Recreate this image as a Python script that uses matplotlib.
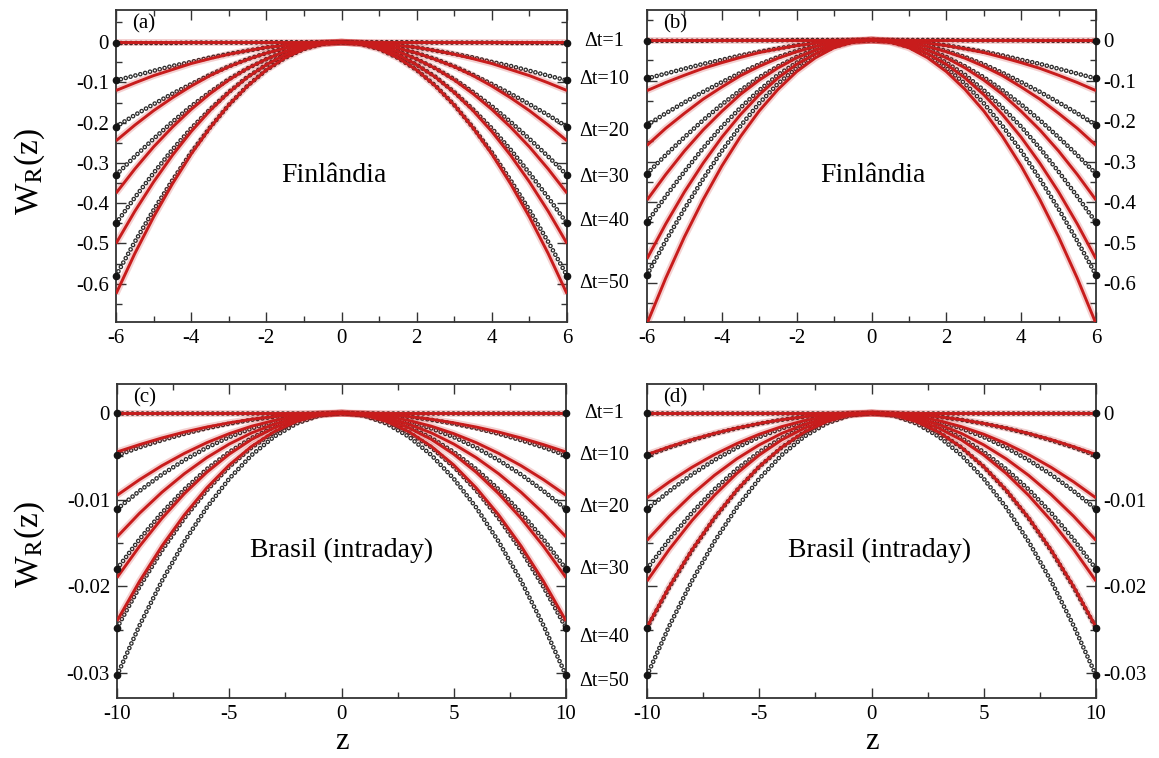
import numpy as np
import matplotlib
matplotlib.use("Agg")
import matplotlib.pyplot as plt
from matplotlib.ticker import MultipleLocator, FuncFormatter

plt.rcParams['font.family'] = ['Liberation Serif', 'DejaVu Serif']
plt.rcParams['mathtext.fontset'] = 'stix'
plt.rcParams['lines.scale_dashes'] = False
plt.rcParams['axes.unicode_minus'] = False

# curvas simetricas: so o lado z >= 0 (o lado negativo e o espelho)
dt_labels = ['Δt=1', 'Δt=10', 'Δt=20', 'Δt=30', 'Δt=40', 'Δt=50']

z_fin = [0, 0.5, 1, 1.5, 2, 2.5, 3, 3.5, 4, 4.5, 5, 5.5, 6]

fin_dados = [
    [0, 0, 0, 0, 0, -0.001, -0.001, -0.001, -0.001, -0.002, -0.002, -0.002, -0.002],
    [0, -0.001, -0.003, -0.008, -0.013, -0.021, -0.029, -0.038, -0.049, -0.059, -0.071, -0.083, -0.095],
    [0, -0.002, -0.007, -0.015, -0.027, -0.042, -0.060, -0.081, -0.104, -0.128, -0.154, -0.181, -0.210],
    [0, -0.003, -0.010, -0.023, -0.042, -0.065, -0.092, -0.124, -0.159, -0.198, -0.240, -0.284, -0.330],
    [0, -0.003, -0.014, -0.031, -0.056, -0.086, -0.124, -0.167, -0.214, -0.267, -0.325, -0.386, -0.450],
    [0, -0.004, -0.017, -0.039, -0.069, -0.108, -0.156, -0.212, -0.274, -0.343, -0.417, -0.496, -0.580],
]

fin_ajuste_a = [
    [0, 0, 0, 0, 0, 0, 0, 0, 0, 0, 0, 0, 0],
    [0, -0.001, -0.003, -0.008, -0.013, -0.021, -0.030, -0.041, -0.053, -0.068, -0.083, -0.101, -0.120],
    [0, -0.002, -0.007, -0.015, -0.027, -0.043, -0.061, -0.083, -0.109, -0.138, -0.170, -0.206, -0.245],
    [0, -0.003, -0.010, -0.023, -0.042, -0.065, -0.094, -0.128, -0.167, -0.211, -0.260, -0.315, -0.375],
    [0, -0.003, -0.014, -0.031, -0.056, -0.087, -0.125, -0.170, -0.222, -0.281, -0.347, -0.420, -0.500],
    [0, -0.004, -0.017, -0.039, -0.069, -0.109, -0.156, -0.213, -0.278, -0.352, -0.434, -0.525, -0.625],
]

fin_ajuste_b = [
    [0, 0, 0, 0, 0, 0, 0, 0, 0, 0, 0, 0, 0],
    [0, -0.001, -0.003, -0.008, -0.014, -0.022, -0.031, -0.043, -0.056, -0.070, -0.087, -0.105, -0.125],
    [0, -0.002, -0.007, -0.016, -0.029, -0.045, -0.065, -0.088, -0.116, -0.146, -0.181, -0.218, -0.260],
    [0, -0.003, -0.011, -0.025, -0.044, -0.069, -0.099, -0.134, -0.176, -0.222, -0.274, -0.332, -0.395],
    [0, -0.004, -0.015, -0.034, -0.060, -0.094, -0.135, -0.184, -0.240, -0.304, -0.375, -0.454, -0.540],
    [0, -0.005, -0.019, -0.044, -0.078, -0.122, -0.175, -0.238, -0.311, -0.394, -0.486, -0.588, -0.700],
]

z_bra = [0, 1, 2, 3, 4, 5, 6, 7, 8, 9, 10]

bra_dados = [
    [0, 0, 0, 0, 0, 0, 0, 0, 0, 0, 0],
    [0, -0.00005, -0.0002, -0.00044, -0.00078, -0.00123, -0.00176, -0.0024, -0.00314, -0.00397, -0.0049],
    [0, -0.00011, -0.00044, -0.001, -0.00178, -0.00278, -0.004, -0.00544, -0.0071, -0.009, -0.0111],
    [0, -0.00018, -0.00072, -0.00162, -0.00288, -0.0045, -0.00648, -0.00882, -0.01152, -0.01458, -0.018],
    [0, -0.00025, -0.00099, -0.00223, -0.00397, -0.0062, -0.00893, -0.01215, -0.01587, -0.02009, -0.0248],
    [0, -0.0003, -0.00121, -0.00273, -0.00485, -0.00758, -0.01091, -0.01485, -0.01939, -0.02454, -0.0303],
]

bra_ajuste_c = [
    [0, 0, 0, 0, 0, 0, 0, 0, 0, 0, 0],
    [0, -0.00005, -0.00018, -0.00041, -0.00072, -0.00113, -0.00162, -0.0022, -0.00288, -0.00365, -0.0045],
    [0, -0.0001, -0.00038, -0.00086, -0.00152, -0.00238, -0.00342, -0.00466, -0.00608, -0.0077, -0.0095],
    [0, -0.00014, -0.00057, -0.00129, -0.00229, -0.00358, -0.00515, -0.00701, -0.00915, -0.01158, -0.0143],
    [0, -0.00019, -0.00076, -0.00171, -0.00304, -0.00475, -0.00684, -0.00931, -0.01216, -0.01539, -0.019],
    [0, -0.00024, -0.00096, -0.00216, -0.00384, -0.006, -0.00864, -0.01176, -0.01536, -0.01944, -0.024],
]

bra_ajuste_d = [
    [0, 0, 0, 0, 0, 0, 0, 0, 0, 0, 0],
    [0, -0.00005, -0.00019, -0.00043, -0.00077, -0.0012, -0.00173, -0.00235, -0.00307, -0.00389, -0.0048],
    [0, -0.0001, -0.00039, -0.00088, -0.00157, -0.00245, -0.00353, -0.0048, -0.00627, -0.00794, -0.0098],
    [0, -0.00015, -0.00059, -0.00132, -0.00235, -0.00368, -0.00529, -0.0072, -0.00941, -0.01191, -0.0147],
    [0, -0.00019, -0.00078, -0.00175, -0.0031, -0.00485, -0.00698, -0.00951, -0.01242, -0.01571, -0.0194],
    [0, -0.00025, -0.00099, -0.00222, -0.00395, -0.00618, -0.00889, -0.0121, -0.01581, -0.02001, -0.0247],
]

VERMELHO = '#c81c1c'
CINZA = '#2b2b2b'


def espelha(z, w):
    z = np.asarray(z, float)
    w = np.asarray(w, float)
    return np.concatenate([-z[:0:-1], z]), np.concatenate([w[:0:-1], w])


def desenha_dados(ax, z, w):
    zz, ww = espelha(z, w)
    bolinhas = (0, (0.01, 3.6))
    ax.plot(zz, ww, color=CINZA, lw=3.4, ls=bolinhas, dash_capstyle='round', zorder=2)
    ax.plot(zz, ww, color='white', lw=1.5, ls=bolinhas, dash_capstyle='round', zorder=2.1)
    ax.plot([zz[0], zz[-1]], [ww[0], ww[-1]], 'o', color='#151515', ms=4.5, clip_on=False, zorder=4)


def desenha_ajuste(ax, z, w):
    zz, ww = espelha(z, w)
    ax.plot(zz, ww, color=VERMELHO, lw=5, alpha=0.2, solid_capstyle='butt', zorder=3)
    ax.plot(zz, ww, color=VERMELHO, lw=2.1, solid_capstyle='butt', zorder=3.1)


def formata(v, pos):
    if abs(v) < 1e-12:
        return '0'
    return '%g' % v


def estilo(ax, xlim, ylim, xmaj, xmin, ymaj, ymin, direita):
    ax.set_xlim(*xlim)
    ax.set_ylim(*ylim)
    ax.xaxis.set_major_locator(MultipleLocator(xmaj))
    ax.xaxis.set_minor_locator(MultipleLocator(xmin))
    ax.yaxis.set_major_locator(MultipleLocator(ymaj))
    ax.yaxis.set_minor_locator(MultipleLocator(ymin))
    ax.xaxis.set_major_formatter(FuncFormatter(formata))
    ax.yaxis.set_major_formatter(FuncFormatter(formata))
    ax.tick_params(which='both', direction='in', top=True, bottom=True, left=True, right=True,
                   labelleft=not direita, labelright=direita, labelsize=15, color='#333333')
    ax.tick_params(which='major', length=7, width=1.0, pad=5)
    ax.tick_params(which='minor', length=4, width=1.0)
    for s in ax.spines.values():
        s.set_linewidth(1.3)
        s.set_color('#333333')


W, H = 1159, 758
fig = plt.figure(figsize=(W / 100, H / 100), dpi=100)


def eixo(x0, x1, y0, y1):
    return fig.add_axes([x0 / W, 1 - y1 / H, (x1 - x0) / W, (y1 - y0) / H])


ax_a = eixo(116, 567, 10, 322)
ax_b = eixo(647, 1096, 10, 322)
ax_c = eixo(117, 566, 384, 698)
ax_d = eixo(647, 1096, 384, 698)

paineis = [
    (ax_a, z_fin, fin_dados, fin_ajuste_a, '(a)', 'Finlândia', 0.483),
    (ax_b, z_fin, fin_dados, fin_ajuste_b, '(b)', 'Finlândia', 0.503),
    (ax_c, z_bra, bra_dados, bra_ajuste_c, '(c)', 'Brasil (intraday)', 0.500),
    (ax_d, z_bra, bra_dados, bra_ajuste_d, '(d)', 'Brasil (intraday)', 0.517),
]

for ax, z, dados, ajuste, letra, nome, xn in paineis:
    for w in dados:
        desenha_dados(ax, z, w)
    for w in ajuste:
        desenha_ajuste(ax, z, w)
    ax.text(0.035, 0.985, letra, transform=ax.transAxes, ha='left', va='top', fontsize=15)
    ax.text(xn, 0.47, nome, transform=ax.transAxes, ha='center', va='center', fontsize=20)

estilo(ax_a, (-6, 6), (-0.695, 0.08), 2, 1, 0.1, 0.05, False)
estilo(ax_b, (-6, 6), (-0.696, 0.074), 2, 1, 0.1, 0.05, True)
estilo(ax_c, (-10, 10), (-0.0329, 0.00335), 5, 2.5, 0.01, 0.005, False)
estilo(ax_d, (-10, 10), (-0.0329, 0.00335), 5, 2.5, 0.01, 0.005, True)

for ax in (ax_c, ax_d):
    ax.set_xlabel('z', fontsize=22, labelpad=2)

# rotulos de Delta t entre os paineis
y_top = [42, 80, 131, 178, 222, 283]
y_bot = [413, 455, 507, 570, 637, 682]
for lab, ya, yb in zip(dt_labels, y_top, y_bot):
    fig.text(604 / W, 1 - ya / H, lab, ha='center', va='center', fontsize=14.5)
    fig.text(604 / W, 1 - yb / H, lab, ha='center', va='center', fontsize=14.5)

for yc in (172, 545):
    fig.text(30 / W, 1 - yc / H, r'W$_{\mathrm{R}}$(z)', rotation=90, ha='center', va='center', fontsize=24)

fig.savefig('out.png', dpi=100)
